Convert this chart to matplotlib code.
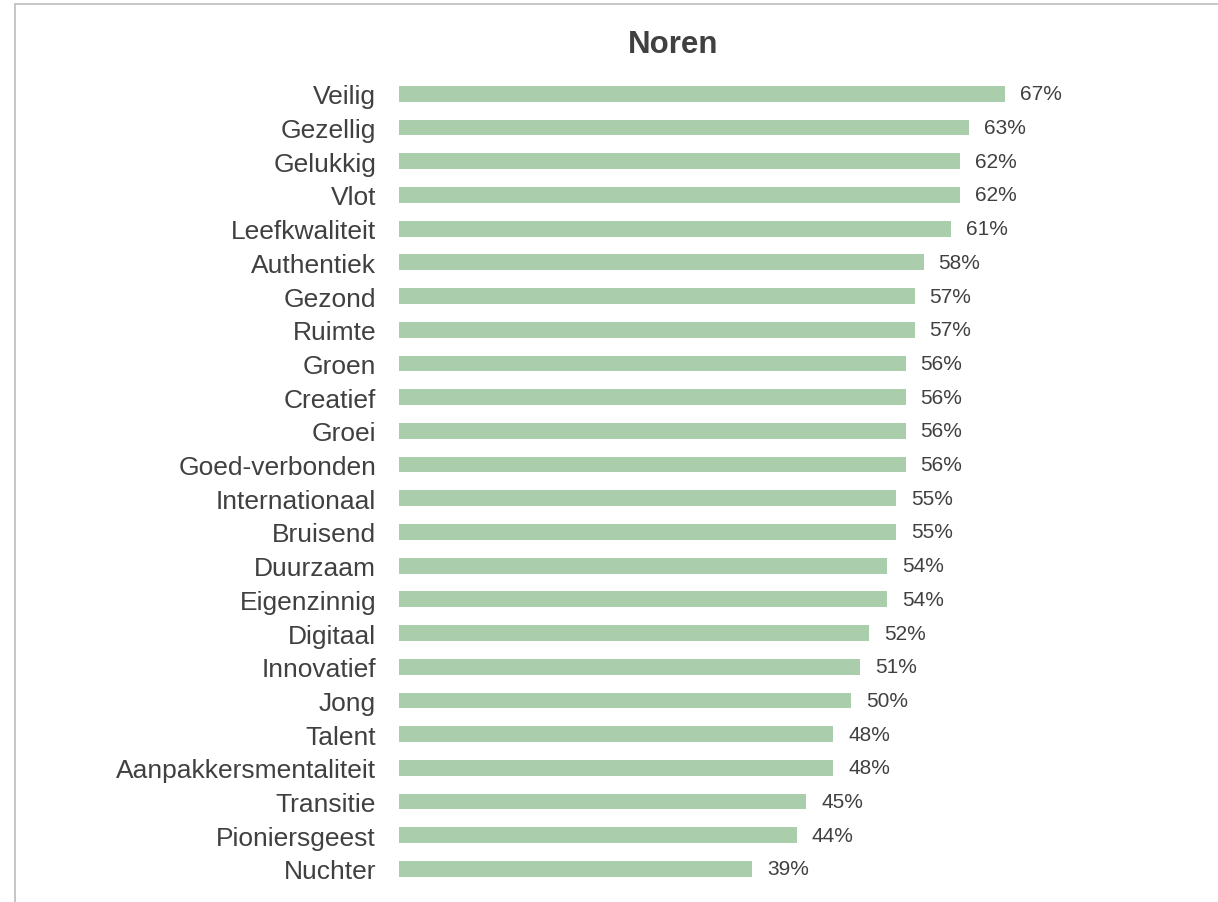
import matplotlib
matplotlib.use("Agg")
import matplotlib.pyplot as plt
from matplotlib.lines import Line2D

plt.rcParams['font.family'] = ['Liberation Sans', 'DejaVu Sans']

categories = ["Veilig", "Gezellig", "Gelukkig", "Vlot", "Leefkwaliteit", "Authentiek",
              "Gezond", "Ruimte", "Groen", "Creatief", "Groei", "Goed-verbonden",
              "Internationaal", "Bruisend", "Duurzaam", "Eigenzinnig", "Digitaal",
              "Innovatief", "Jong", "Talent", "Aanpakkersmentaliteit", "Transitie",
              "Pioniersgeest", "Nuchter"]
values = [67, 63, 62, 62, 61, 58, 57, 57, 56, 56, 56, 56, 55, 55, 54, 54, 52,
          51, 50, 48, 48, 45, 44, 39]
title = "Noren"

W, H = 1218, 903
fig = plt.figure(figsize=(W / 100, H / 100), dpi=100)
fig.patch.set_facecolor("white")

# axes placed in pixel terms: zero line at x=399, rows from y=78 to y=887
left_px, right_px = 399, 1150
top_px, bottom_px = 78.0, 886.8
ax = fig.add_axes([left_px / W, 1 - bottom_px / H,
                   (right_px - left_px) / W, (bottom_px - top_px) / H])

px_per_unit = 9.045
ax.set_xlim(0, (right_px - left_px) / px_per_unit)
ax.set_ylim(len(categories) - 0.5, -0.5)

ypos = list(range(len(categories)))
ax.barh(ypos, values, height=0.47, color="#AACDAB", edgecolor="none")

for y, v in zip(ypos, values):
    ax.annotate(f"{v}%", xy=(v, y), xytext=(10.8, 0), textcoords="offset points",
                ha="left", va="center", fontsize=15, color="#404040")

ax.set_yticks(ypos)
ax.set_yticklabels(categories, fontsize=19, color="#404040")
ax.tick_params(axis="y", length=0, pad=16.5)
ax.set_xticks([])
for s in ax.spines.values():
    s.set_visible(False)

fig.text(673 / W, 1 - 45 / H, title, ha="center", va="center",
         fontsize=22.5, fontweight="bold", color="#404040")

# light frame around the chart area (top and left edges)
fig.add_artist(Line2D([14.5 / W, 1.0], [1 - 4.5 / H, 1 - 4.5 / H],
                      transform=fig.transFigure, color="#C6C6C6", linewidth=1.4))
fig.add_artist(Line2D([14.5 / W, 14.5 / W], [0.0, 1 - 4.5 / H],
                      transform=fig.transFigure, color="#C6C6C6", linewidth=1.4))

fig.savefig("out.png", dpi=100, facecolor="white")
